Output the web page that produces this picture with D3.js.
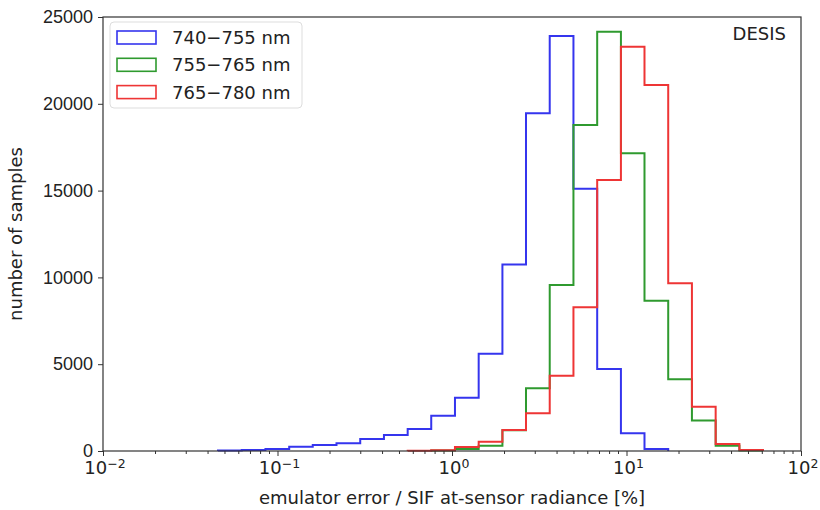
<!DOCTYPE html>
<html>
<head>
<meta charset="utf-8">
<script src="https://cdn.jsdelivr.net/npm/d3@7"></script>
<style>
  body { margin: 0; background: #fff; }
  svg { font-family: "DejaVu Sans", sans-serif; }
</style>
</head>
<body>
<div id="chart"></div>
<script>
// bin edges of the histograms, in percent (log spaced)
var binEdges = [0.0456, 0.0624, 0.0853, 0.1167, 0.1592, 0.2178, 0.2979, 0.4074, 0.5572, 0.7603,
  1.040, 1.422, 1.945, 2.655, 3.631, 4.966, 6.792, 9.290, 12.68, 17.34, 23.71, 32.43, 44.36, 60.53];

// counts per bin for each band
var series = ["740\u2212755 nm", "755\u2212765 nm", "765\u2212780 nm"];
var colors = ["#3535ee", "#2f9a2f", "#ee3535"];
var countsBlue  = [30, 60, 115, 250, 345, 440, 690, 920, 1270, 2030, 3070, 5600, 10750, 19450, 23900, 15100, 4720, 1020, 115, 0, 0, 0, 0];
var countsGreen = [0, 0, 0, 0, 0, 0, 0, 0, 0, 30, 115, 305, 1190, 3610, 9560, 18780, 24150, 17150, 8660, 4130, 1750, 305, 30];
var countsRed   = [0, 0, 0, 0, 0, 0, 0, 0, 15, 50, 230, 535, 1210, 2170, 4340, 8280, 15610, 23290, 21080, 9660, 2550, 400, 60];
var allCounts = [countsBlue, countsGreen, countsRed];

var yTicks = [0, 5000, 10000, 15000, 20000, 25000];
var xTicks = [0.01, 0.1, 1, 10, 100];
var xExps = ["\u22122", "\u22121", "0", "1", "2"];

var margin = { top: 17, right: 19, bottom: 59, left: 103 },
    width = 820 - margin.left - margin.right,
    height = 510 - margin.top - margin.bottom;

var svg = d3.select("#chart")
  .append("svg")
  .attr("width", 820)
  .attr("height", 510)
  .append("g")
  .attr("transform", "translate(" + margin.left + "," + margin.top + ")");

var x = d3.scaleLog().domain([0.01, 100]).range([0, width]);
var y = d3.scaleLinear().domain([0, 25000]).range([height, 0]);

// step outlines
allCounts.forEach(function(counts, s) {
  var first = counts.findIndex(function(c) { return c > 0; });
  var last = counts.length - 1;
  while (last > 0 && counts[last] === 0) last--;
  var pts = [[x(binEdges[first]), y(0)]];
  for (var i = first; i <= last; i++) {
    pts.push([x(binEdges[i]), y(counts[i])]);
    pts.push([x(binEdges[i + 1]), y(counts[i])]);
  }
  pts.push([x(binEdges[last + 1]), y(0)]);
  svg.append("path")
    .attr("d", d3.line()(pts))
    .attr("fill", "none")
    .attr("stroke", colors[s])
    .attr("stroke-width", 2)
    .attr("stroke-linejoin", "miter");
});

// axes
var yAxis = svg.append("g")
  .call(d3.axisLeft(y).tickValues(yTicks).tickSize(5).tickPadding(5).tickFormat(d3.format("d")));
yAxis.select(".domain").remove();
yAxis.selectAll("text").style("font-size", "18px").attr("fill", "#222");
yAxis.selectAll("line").attr("stroke", "#333");

// minor ticks on log x axis
var minor = [];
for (var e = -2; e < 2; e++) {
  for (var m = 2; m <= 9; m++) minor.push(m * Math.pow(10, e));
}
svg.append("g").selectAll("line")
  .data(minor)
  .enter()
  .append("line")
  .attr("x1", function(d) { return x(d); })
  .attr("x2", function(d) { return x(d); })
  .attr("y1", height)
  .attr("y2", height + 3)
  .attr("stroke", "#333");

var xAxis = svg.append("g")
  .attr("transform", "translate(0," + height + ")")
  .call(d3.axisBottom(x).tickValues(xTicks).tickSize(5).tickFormat(""));
xAxis.select(".domain").remove();
xAxis.selectAll("line").attr("stroke", "#333");

var xl = svg.append("g").selectAll("text")
  .data(xTicks)
  .enter()
  .append("text")
  .attr("x", function(d) { return x(d) + 2; })
  .attr("y", height + 23)
  .attr("text-anchor", "middle")
  .attr("fill", "#222")
  .style("font-size", "18px");
xl.append("tspan").text("10");
xl.append("tspan")
  .attr("dy", -6)
  .style("font-size", "12.5px")
  .text(function(d, i) { return xExps[i]; });

// frame
svg.append("rect")
  .attr("width", width)
  .attr("height", height)
  .attr("fill", "none")
  .attr("stroke", "#333")
  .attr("stroke-width", 1.2);

// axis titles
svg.append("text")
  .attr("x", width / 2)
  .attr("y", height + 53)
  .attr("text-anchor", "middle")
  .attr("fill", "#222")
  .style("font-size", "18px")
  .text("emulator error / SIF at-sensor radiance [%]");

svg.append("text")
  .attr("transform", "translate(" + (-margin.left + 22) + "," + (height / 2) + ") rotate(-90)")
  .attr("text-anchor", "middle")
  .attr("fill", "#222")
  .style("font-size", "18px")
  .text("number of samples");

svg.append("text")
  .attr("x", width - 15)
  .attr("y", 23)
  .attr("text-anchor", "end")
  .attr("fill", "#222")
  .style("font-size", "18px")
  .text("DESIS");

// legend
var legend = svg.append("g").attr("transform", "translate(7,5)");
legend.append("rect")
  .attr("width", 192)
  .attr("height", 86)
  .attr("rx", 4)
  .attr("fill", "#fff")
  .attr("fill-opacity", 0.8)
  .attr("stroke", "#ddd");
series.forEach(function(name, i) {
  var row = legend.append("g").attr("transform", "translate(0," + (15.5 + i * 27.3) + ")");
  row.append("rect")
    .attr("x", 7)
    .attr("y", -6.5)
    .attr("width", 39)
    .attr("height", 13)
    .attr("fill", "none")
    .attr("stroke", colors[i])
    .attr("stroke-width", 1.6);
  row.append("text")
    .attr("x", 62)
    .attr("y", 6.5)
    .attr("fill", "#222")
    .style("font-size", "18px")
    .text(name);
});
</script>
</body>
</html>
